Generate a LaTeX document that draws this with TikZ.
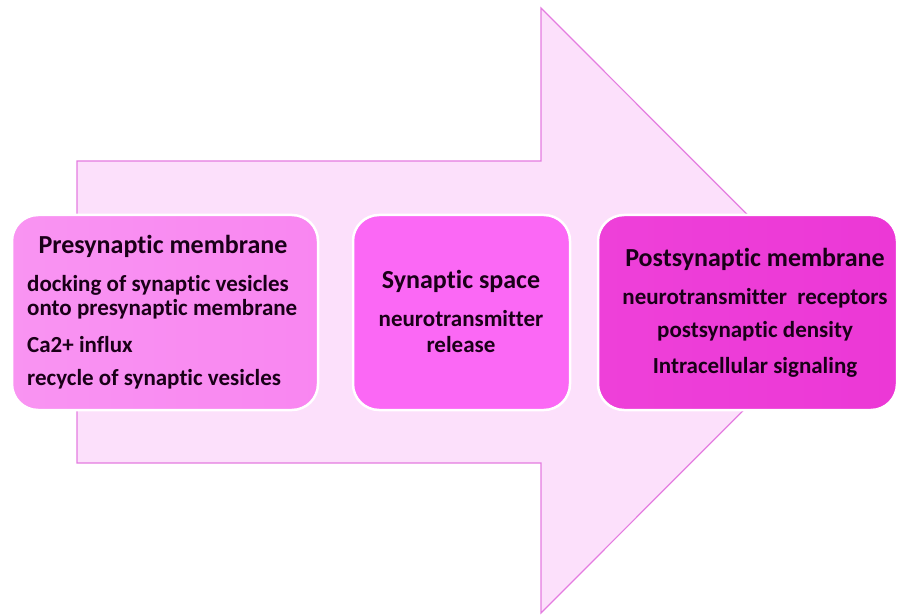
\documentclass[tikz,border=0pt]{standalone}
\usepackage{fontspec}
\setmainfont{Carlito}[Ligatures={NoCommon}]
\definecolor{arrowfill}{HTML}{FCE0FB}
\definecolor{arrowline}{HTML}{E47CE0}
\definecolor{preA}{HTML}{F994F2}
\definecolor{preB}{HTML}{F986F1}
\definecolor{gapfill}{HTML}{FB68F5}
\definecolor{postA}{HTML}{EE40D9}
\definecolor{postB}{HTML}{EC38D6}
\definecolor{ink}{HTML}{1A0018}
\begin{document}
\begin{tikzpicture}[x=1pt,y=-1pt,
  stagebox/.style={draw=white,line width=2.5pt,rounded corners=26pt},
  title/.style={font=\bfseries\fontsize{26}{30}\selectfont,text=ink,inner sep=0pt},
  item/.style={font=\bfseries\fontsize{23}{26}\selectfont,text=ink,inner sep=0pt}]
\useasboundingbox (0,0) rectangle (898,615);
% big background arrow
\draw[fill=arrowfill,draw=arrowline,line width=1.2pt,line join=miter]
  (77,161) -- (541,161) -- (541,8) -- (843,310.5) -- (541,613) -- (541,463) -- (77,463) -- cycle;
% three stage boxes
\path[stagebox,left color=preA,right color=preB] (12,215) rectangle (318,410);
\path[stagebox,fill=gapfill] (353,215) rectangle (570,410);
\path[stagebox,left color=postA,right color=postB] (598,215) rectangle (897,410);
% presynaptic side
\node[title] (preT) at (163,246) {Presynaptic membrane};
\node[item,anchor=west] (pre1) at (27,285) {docking of synaptic vesicles};
\node[item,anchor=west] (pre2) at (27,309) {onto presynaptic membrane};
\node[item,anchor=west] (pre3) at (27,345) {Ca2+ influx};
\node[item,anchor=west] (pre4) at (27,379) {recycle of synaptic vesicles};
% cleft
\node[title] (gapT) at (461,281) {Synaptic space};
\node[item] (gap1) at (461,319) {neurotransmitter};
\node[item] (gap2) at (461,345) {release};
% postsynaptic side
\node[title] (postT) at (755,259) {Postsynaptic membrane};
\node[item] (post1) at (755,298) {neurotransmitter\ \ receptors};
\node[item] (post2) at (755,331) {postsynaptic density};
\node[item] (post3) at (755,367) {Intracellular signaling};
\end{tikzpicture}
\end{document}
